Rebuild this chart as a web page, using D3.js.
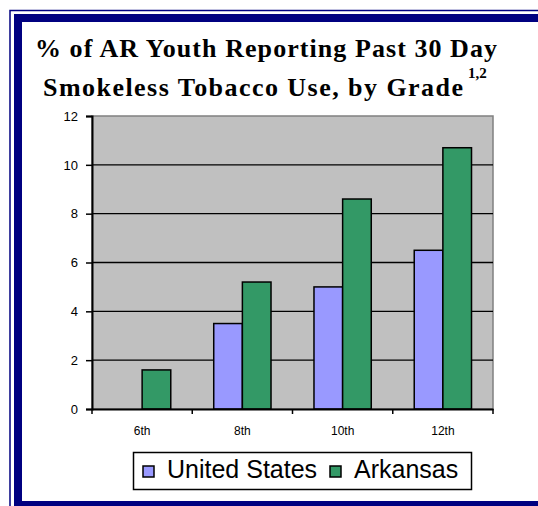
<!DOCTYPE html>
<html>
<head>
<meta charset="utf-8">
<script src="https://cdn.jsdelivr.net/npm/d3@7"></script>
<style>
  html, body { margin: 0; padding: 0; background: #fff; }
  svg { display: block; }
</style>
</head>
<body>
<div id="chart"></div>
<script>
// Chart data
const grades = ["6th", "8th", "10th", "12th"];
const seriesNames = ["United States", "Arkansas"];
const usValues = [null, 3.5, 5.0, 6.5];
const arValues = [1.6, 5.2, 8.6, 10.7];
const yTicks = [0, 2, 4, 6, 8, 10, 12];

const colors = { "United States": "#9999FF", "Arkansas": "#339966" };

const width = 538;
const height = 506;

const svg = d3.select("#chart")
    .append("svg")
    .attr("width", width)
    .attr("height", height);

// Frame (thin + thick navy lines)
const navy = "#000080";
svg.append("rect").attr("x", 10).attr("y", 10.5).attr("width", 540).attr("height", 520)
    .attr("fill", "none").attr("stroke", navy).attr("stroke-width", 1.5);
svg.append("rect").attr("x", 18).attr("y", 18).attr("width", 540).attr("height", 487)
    .attr("fill", "none").attr("stroke", navy).attr("stroke-width", 8);

// Title
const title = svg.append("g")
    .attr("font-family", "'Liberation Serif', 'Times New Roman', serif")
    .attr("font-weight", "bold")
    .attr("fill", "#000");

title.append("text")
    .attr("x", 35).attr("y", 57)
    .attr("font-size", 26)
    .attr("textLength", 462)
    .attr("lengthAdjust", "spacing")
    .text("% of AR Youth Reporting Past 30 Day");

title.append("text")
    .attr("x", 43).attr("y", 96)
    .attr("font-size", 26)
    .attr("textLength", 420)
    .attr("lengthAdjust", "spacing")
    .text("Smokeless Tobacco Use, by Grade");

title.append("text")
    .attr("x", 468).attr("y", 78)
    .attr("font-size", 15)
    .text("1,2");

// Plot area
const margin = { left: 92, top: 116, right: 493, bottom: 409 };

const x0 = d3.scaleBand()
    .domain(grades)
    .range([margin.left, margin.right])
    .paddingInner(0)
    .paddingOuter(0);

const x1 = d3.scaleBand()
    .domain(seriesNames)
    .range([0, x0.bandwidth()])
    .paddingInner(0)
    .paddingOuter(0.75);

const y = d3.scaleLinear()
    .domain([0, 12])
    .range([margin.bottom, margin.top]);

svg.append("rect")
    .attr("x", margin.left).attr("y", margin.top)
    .attr("width", margin.right - margin.left)
    .attr("height", margin.bottom - margin.top)
    .attr("fill", "#C0C0C0")
    .attr("stroke", "#808080")
    .attr("stroke-width", 1.5);

// Gridlines
svg.append("g")
    .selectAll("line")
    .data(yTicks.filter(d => d > 0 && d < 12))
    .join("line")
    .attr("x1", margin.left).attr("x2", margin.right)
    .attr("y1", d => y(d)).attr("y2", d => y(d))
    .attr("stroke", "#000")
    .attr("stroke-width", 1.3);

// Bars
const rows = grades.map((g, i) => ({
    grade: g,
    values: [
        { name: "United States", value: usValues[i] },
        { name: "Arkansas", value: arValues[i] }
    ]
}));

svg.append("g")
    .selectAll("g")
    .data(rows)
    .join("g")
    .attr("transform", d => `translate(${x0(d.grade)},0)`)
    .selectAll("rect")
    .data(d => d.values.filter(v => v.value != null))
    .join("rect")
    .attr("x", d => x1(d.name))
    .attr("y", d => y(d.value))
    .attr("width", x1.bandwidth())
    .attr("height", d => y(0) - y(d.value))
    .attr("fill", d => colors[d.name])
    .attr("stroke", "#000")
    .attr("stroke-width", 1.5);

// Y axis
const yAxis = d3.axisLeft(y)
    .tickValues(yTicks)
    .tickSize(6)
    .tickPadding(8);

svg.append("g")
    .attr("transform", `translate(${margin.left},0)`)
    .call(yAxis)
    .call(g => g.select(".domain").attr("stroke", "#000").attr("stroke-width", 2))
    .call(g => g.selectAll(".tick line").attr("stroke", "#000").attr("stroke-width", 1.5))
    .call(g => g.selectAll("text")
        .attr("font-family", "Arial, 'Liberation Sans', sans-serif")
        .attr("font-size", 13)
        .attr("fill", "#000"));

// X axis
const xAxis = d3.axisBottom(x0).tickSize(0).tickPadding(17);

svg.append("g")
    .attr("transform", `translate(0,${margin.bottom})`)
    .call(xAxis)
    .call(g => g.select(".domain").attr("stroke", "#000").attr("stroke-width", 2))
    .call(g => g.selectAll("text")
        .attr("font-family", "Arial, 'Liberation Sans', sans-serif")
        .attr("font-size", 12)
        .attr("fill", "#000"));

// Category boundary ticks
svg.append("g")
    .selectAll("line")
    .data(grades.map(g => x0(g)).concat([margin.right]))
    .join("line")
    .attr("x1", d => d).attr("x2", d => d)
    .attr("y1", margin.bottom).attr("y2", margin.bottom + 5)
    .attr("stroke", "#000")
    .attr("stroke-width", 1.5);

// Legend
const legend = svg.append("g");
legend.append("rect")
    .attr("x", 133.5).attr("y", 452.5)
    .attr("width", 338).attr("height", 37)
    .attr("fill", "#fff")
    .attr("stroke", "#000")
    .attr("stroke-width", 1.5);

const legendX = [143, 330];
const legendItems = legend.selectAll("g")
    .data(seriesNames)
    .join("g")
    .attr("transform", (d, i) => `translate(${legendX[i]},466)`);

legendItems.append("rect")
    .attr("width", 11).attr("height", 11)
    .attr("fill", d => colors[d])
    .attr("stroke", "#000")
    .attr("stroke-width", 1.5);

legendItems.append("text")
    .attr("x", 24).attr("y", 12)
    .attr("font-family", "Arial, 'Liberation Sans', sans-serif")
    .attr("font-size", 25)
    .attr("fill", "#000")
    .text(d => d);
</script>
</body>
</html>
